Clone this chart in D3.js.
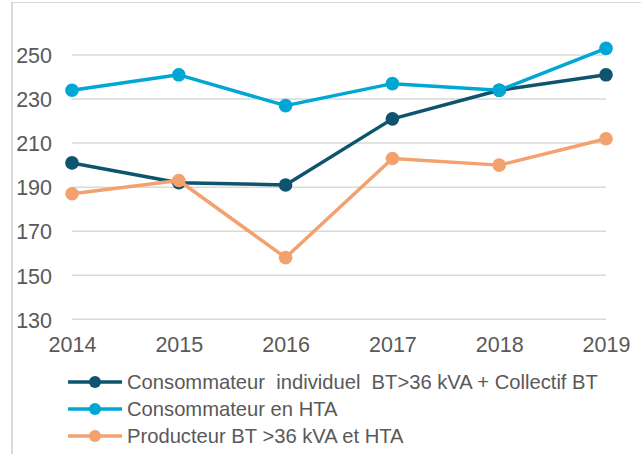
<!DOCTYPE html>
<html>
<head>
<meta charset="utf-8">
<script src="https://cdn.jsdelivr.net/npm/d3@7"></script>
<style>
  html, body { margin: 0; padding: 0; background: #fff; }
  svg { display: block; }
  text { font-family: "Liberation Sans", Arial, sans-serif; fill: #595959; }
</style>
</head>
<body>
<div id="chart"></div>
<script>
// chart data
const years = ["2014", "2015", "2016", "2017", "2018", "2019"];
const consoIndividuel = [201, 192, 191, 221, 234, 241];
const consoHTA = [234, 241, 227, 237, 234, 253];
const producteur = [187, 193, 158, 203, 200, 212];
const yTicks = [130, 150, 170, 190, 210, 230, 250];

const seriesNames = [
  "Consommateur  individuel  BT>36 kVA + Collectif BT",
  "Consommateur en HTA",
  "Producteur BT >36 kVA et HTA"
];
const seriesColors = ["#0f546f", "#00a7d4", "#f3a26f"];
const allSeries = [consoIndividuel, consoHTA, producteur];

const width = 641, height = 454;

const svg = d3.select("#chart")
  .append("svg")
  .attr("width", width)
  .attr("height", height);

// chart border (only left + top visible)
svg.append("line")
  .attr("x1", 12).attr("x2", 12).attr("y1", 2).attr("y2", height)
  .attr("stroke", "#d9d9d9").attr("stroke-width", 2);
svg.append("line")
  .attr("x1", 12).attr("x2", width).attr("y1", 2.5).attr("y2", 2.5)
  .attr("stroke", "#d9d9d9").attr("stroke-width", 1);

// scales
const x = d3.scalePoint().domain(years).range([72, 606]);
const y = d3.scaleLinear().domain([130, 250]).range([319.3, 55]);

// gridlines
svg.append("g")
  .selectAll("line")
  .data(yTicks)
  .enter()
  .append("line")
  .attr("x1", 72).attr("x2", 606)
  .attr("y1", d => y(d)).attr("y2", d => y(d))
  .attr("stroke", "#d9d9d9")
  .attr("stroke-width", 1.5);

// y axis
const yAxis = svg.append("g")
  .attr("transform", "translate(52,0)")
  .call(d3.axisLeft(y).tickValues(yTicks).tickSize(0).tickPadding(0));
yAxis.select(".domain").remove();
yAxis.selectAll("text")
  .attr("font-size", "21.5px")
  .attr("font-family", null)
  .attr("fill", "#595959")
  .attr("dy", "0.36em");

// x axis
const xAxis = svg.append("g")
  .attr("transform", "translate(0,337)")
  .call(d3.axisBottom(x).tickSize(0).tickPadding(0));
xAxis.select(".domain").remove();
xAxis.selectAll("text")
  .attr("font-size", "21.5px")
  .attr("font-family", null)
  .attr("fill", "#595959")
  .attr("dy", "0.72em");

// lines + markers
const line = d3.line()
  .x((d, i) => x(years[i]))
  .y(d => y(d));

allSeries.forEach((values, s) => {
  const g = svg.append("g");
  g.append("path")
    .datum(values)
    .attr("d", line)
    .attr("fill", "none")
    .attr("stroke", seriesColors[s])
    .attr("stroke-width", 3.5)
    .attr("stroke-linejoin", "round");
  g.selectAll("circle")
    .data(values)
    .enter()
    .append("circle")
    .attr("cx", (d, i) => x(years[i]))
    .attr("cy", d => y(d))
    .attr("r", 6.8)
    .attr("fill", seriesColors[s]);
});

// legend
const legend = svg.append("g");
seriesNames.forEach((name, i) => {
  const ly = 382 + i * 27;
  const row = legend.append("g").attr("transform", `translate(0,${ly})`);
  row.append("line")
    .attr("x1", 68).attr("x2", 122)
    .attr("y1", 0).attr("y2", 0)
    .attr("stroke", seriesColors[i])
    .attr("stroke-width", 3.5);
  row.append("circle")
    .attr("cx", 95).attr("cy", 0).attr("r", 6)
    .attr("fill", seriesColors[i]);
  row.append("text")
    .attr("x", 127)
    .attr("y", 0)
    .attr("dy", "0.36em")
    .attr("font-size", "20.2px")
    .style("white-space", "pre")
    .text(name);
});
</script>
</body>
</html>
